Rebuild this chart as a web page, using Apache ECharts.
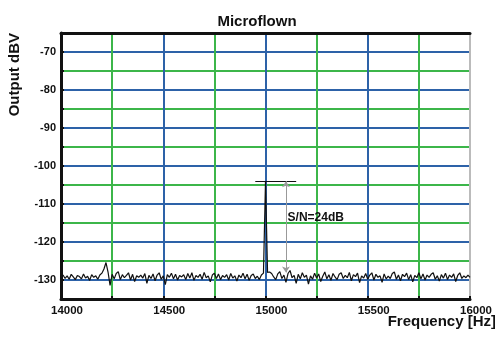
<!DOCTYPE html>
<html>
<head>
<meta charset="utf-8">
<script src="https://cdn.jsdelivr.net/npm/echarts@6/dist/echarts.min.js"></script>
<style>
  html, body { margin: 0; padding: 0; background: #fff; }
  #chart { width: 495px; height: 338px; }
</style>
</head>
<body>
<div id="chart"></div>
<script>
// spectrum bins, 10 Hz apart, starting at 14000 Hz
const startHz = 14000;
const binHz = 10;
const levelsDbv = [
  -129.3,-128.7,-129.6,-128.9,-129.8,-128.5,-129.2,-129.9,-128.8,-129.1,-129.7,-128.4,-129.5,-129.0,-130.1,-128.6,-129.3,-128.9,-129.8,-128.7,
  -128.2,-127.1,-125.4,-127.9,-131.4,-128.5,-129.7,-128.3,-127.8,-129.9,-128.6,-129.4,-128.8,-128.1,-130.0,-128.5,-130.4,-128.9,-129.3,-128.7,
  -129.5,-128.3,-130.9,-128.8,-129.6,-128.4,-130.2,-128.7,-128.1,-129.8,-128.9,-131.2,-128.6,-129.3,-128.2,-129.7,-128.5,-130.0,-128.8,-129.2,
  -128.6,-129.9,-128.3,-129.5,-128.1,-130.1,-128.8,-129.3,-128.5,-129.8,-128.0,-129.4,-128.9,-130.5,-128.7,-128.2,-129.6,-128.4,-129.9,-128.8,
  -129.3,-128.6,-130.0,-128.3,-129.5,-128.9,-130.3,-128.7,-129.4,-128.2,-129.7,-128.5,-130.1,-128.8,-128.4,-129.6,-129.0,-129.9,-128.7,-128.2,
  -104.0,-128.0,-127.9,-128.3,-129.2,-129.9,-128.4,-127.8,-129.6,-128.7,-130.6,-128.3,-127.5,-129.4,-128.8,-130.9,-128.5,-129.7,-128.1,-129.3,
  -128.7,-131.1,-128.9,-129.8,-128.2,-129.5,-128.4,-130.4,-129.0,-127.9,-129.7,-128.6,-130.1,-128.3,-129.2,-129.9,-128.5,-128.1,-129.6,-128.8,
  -129.4,-128.0,-130.2,-128.6,-129.1,-128.2,-130.7,-128.9,-129.5,-128.3,-129.8,-128.7,-128.1,-130.0,-128.5,-129.3,-128.9,-130.6,-128.4,-129.7,
  -129.0,-129.6,-128.3,-127.9,-129.8,-128.7,-130.2,-128.5,-129.1,-128.2,-129.9,-128.6,-130.5,-128.8,-129.4,-128.1,-129.7,-128.4,-130.0,-128.7,
  -129.3,-128.5,-128.1,-129.8,-128.9,-130.3,-128.6,-129.5,-128.2,-129.9,-128.7,-129.3,-128.4,-130.4,-128.8,-128.1,-129.6,-128.9,-129.4,-128.7,
  -129.3
];

// S/N annotation
const peakBarHz = [14950, 15150];
const peakLevel = -104;
const floorLevel = -128;
const arrowHz = 15100;
const snText = 'S/N=24dB';
const snPos = [15108, -113.5];

const xTicks = [14000, 14500, 15000, 15500, 16000];
const yTicks = [-70, -80, -90, -100, -110, -120, -130];

const BLUE = '#2d62a8';
const GREEN = '#3cb64a';
const EDGE = '#bbb';
const FONT = '"Liberation Sans", Arial, sans-serif';

const spectrum = levelsDbv.map((v, i) => [startHz + i * binHz, v]);

const chart = echarts.init(document.getElementById('chart'));

chart.setOption({
  animation: false,
  title: {
    text: 'Microflown',
    left: 252,
    top: 9,
    textAlign: 'center',
    textStyle: { fontFamily: FONT, fontSize: 15, fontWeight: 'bold', color: '#111' }
  },
  grid: {
    left: 61, right: 20, top: 33, bottom: 39,
    show: true, borderColor: EDGE, borderWidth: 1
  },
  xAxis: [{
    type: 'value',
    min: 14000, max: 16000, interval: 250,
    axisLine: { lineStyle: { color: '#111', width: 3 } },
    axisTick: { show: true, inside: true, length: 3, lineStyle: { color: '#111', width: 2 } },
    axisLabel: {
      fontFamily: FONT, fontSize: 11.5, fontWeight: 'bold', color: '#111',
      margin: 6, padding: [0, 0, 0, 12],
      formatter: v => xTicks.includes(v) ? String(v) : ''
    },
    splitLine: {
      show: true,
      lineStyle: { color: [BLUE, GREEN, BLUE, GREEN, BLUE, GREEN, BLUE, GREEN, EDGE], width: 2 }
    }
  }, {
    type: 'value', position: 'top',
    min: 14000, max: 16000,
    axisLine: { show: true, lineStyle: { color: '#111', width: 3 } },
    axisTick: { show: false }, axisLabel: { show: false }, splitLine: { show: false }
  }],
  yAxis: {
    type: 'value',
    min: -135, max: -65, interval: 5,
    axisLine: { show: true, lineStyle: { color: '#111', width: 3 } },
    axisTick: { show: true, inside: true, length: 3, lineStyle: { color: '#111', width: 2 } },
    axisLabel: {
      fontFamily: FONT, fontSize: 11, fontWeight: 'bold', color: '#111', margin: 5,
      formatter: v => yTicks.includes(v) ? String(v) : ''
    },
    splitLine: { show: true, lineStyle: { color: [GREEN, BLUE], width: 2 } }
  },
  graphic: [
    {
      type: 'text', left: 7, top: 33, rotation: Math.PI / 2,
      style: { text: 'Output dBV', font: 'bold 15px ' + FONT, fill: '#111' }
    },
    {
      type: 'text', right: -1, top: 314,
      style: { text: 'Frequency [Hz]', font: 'bold 15px ' + FONT, fill: '#111' }
    }
  ],
  series: [{
    type: 'line',
    data: spectrum,
    showSymbol: false,
    lineStyle: { color: '#111', width: 1.2 },
    markLine: {
      silent: true,
      animation: false,
      data: [
        [
          { coord: [peakBarHz[0], peakLevel], symbol: 'none', lineStyle: { color: '#111', width: 1, type: 'solid' } },
          { coord: [peakBarHz[1], peakLevel], symbol: 'none' }
        ],
        [
          { coord: [arrowHz, peakLevel], symbol: 'arrow', symbolSize: 6, lineStyle: { color: '#999', width: 1, type: 'solid' } },
          { coord: [arrowHz, floorLevel], symbol: 'arrow', symbolSize: 6 }
        ]
      ],
      label: { show: false }
    },
    markPoint: {
      silent: true,
      symbol: 'circle', symbolSize: 0,
      data: [{ coord: snPos, value: snText }],
      label: {
        show: true, position: 'right', distance: 0,
        formatter: snText,
        fontFamily: FONT, fontSize: 12, fontWeight: 'bold', color: '#111'
      }
    }
  }]
});
</script>
</body>
</html>
